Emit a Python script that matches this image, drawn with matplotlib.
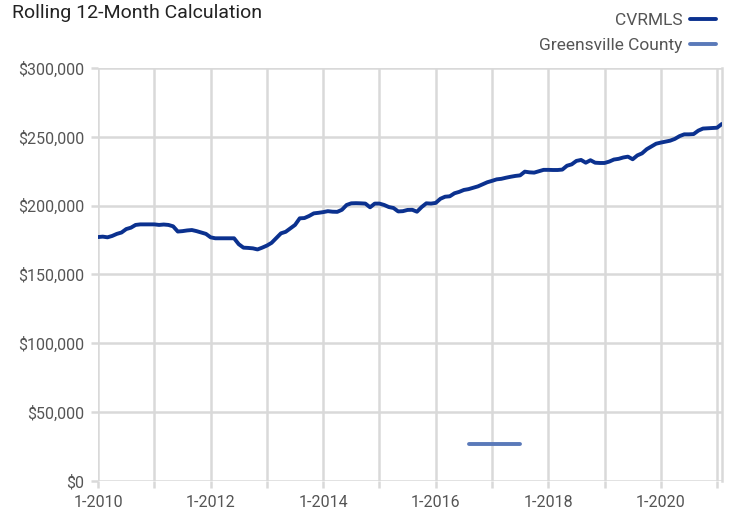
import numpy as np
import matplotlib.pyplot as plt

plt.rcParams['font.family'] = ['Roboto', 'DejaVu Sans']

# monthly rolling 12-month values, Jan 2010 .. Feb 2021
cvrmls = [
    177200, 177500, 177000, 178000, 179500, 180500, 183000, 184000, 186000, 186400, 186400, 186400,  # 2010
    186400, 186000, 186300, 186000, 185000, 181200, 181500, 182000, 182300, 181500, 180500, 179500,  # 2011
    177000, 176300, 176300, 176300, 176300, 176300, 172000, 169500, 169300, 169000, 168200, 169500,  # 2012
    171000, 173000, 176500, 179900, 181000, 183500, 186000, 190800, 191000, 192500, 194400, 194800,  # 2013
    195300, 196000, 195600, 195500, 197000, 200500, 201700, 201800, 201700, 201500, 198800, 201500,  # 2014
    201500, 200500, 199000, 198300, 195800, 196000, 196900, 197000, 195600, 199000, 201700, 201500,  # 2015
    202000, 205000, 206500, 206800, 209000, 210000, 211400, 212000, 213000, 214000, 215500, 217000,  # 2016
    218000, 219100, 219500, 220300, 221000, 221600, 222000, 224700, 224200, 224000, 225000, 226000,  # 2017
    226000, 225900, 225900, 226200, 229000, 230000, 232500, 233200, 231200, 233000, 231200, 231000,  # 2018
    231000, 232000, 233500, 234000, 235000, 235600, 233700, 236500, 238000, 241000, 243000, 245000,  # 2019
    245800, 246500, 247200, 248500, 250500, 251800, 251800, 252000, 254500, 256000, 256200, 256400,  # 2020
    256600, 259300,  # 2021
]
months = np.arange(len(cvrmls))

# Greensville County only reported Aug 2016 .. Jul 2017
gv_start = 79
greensville = [27000, 27000, 27000, 27000, 27000, 27000, 27000, 27000, 27000, 27000, 27000, 27000]
gv_months = np.arange(gv_start, gv_start + len(greensville))

year_ticks = np.arange(0, len(cvrmls), 12)
year_labels = ['1-%d' % (2010 + i) if i % 2 == 0 else '' for i in range(len(year_ticks))]

grid_c = '#d9d9d9'
txt_c = '#555555'

fig = plt.figure(figsize=(7.32, 5.15), dpi=100)
ax = fig.add_axes([0.134, 0.066, 0.852, 0.802])

ax.plot(months, cvrmls, color='#0b318f', lw=2.8, label='CVRMLS', solid_capstyle='round', zorder=3)
ax.plot(gv_months, greensville, color='#5a79b9', lw=2.8, label='Greensville County', solid_capstyle='round', zorder=3)

ax.set_xlim(0, len(cvrmls) - 1)
ax.set_ylim(0, 300000)
ax.set_xticks(year_ticks)
ax.set_xticklabels(year_labels)
ax.set_yticks(np.arange(0, 300001, 50000))
ax.set_yticklabels(['${:,.0f}'.format(v) for v in np.arange(0, 300001, 50000)])

ax.grid(True, color=grid_c, lw=1.8, zorder=0)
ax.tick_params(axis='both', colors=grid_c, width=1.8, length=5, labelcolor=txt_c, labelsize=11.5)
ax.tick_params(axis='x', pad=5)
ax.tick_params(axis='y', pad=5)
for s in ['top', 'left', 'bottom']:
    ax.spines[s].set_visible(False)
ax.spines['right'].set_color(grid_c)
ax.spines['right'].set_linewidth(1.8)

fig.text(0.016, 0.975, 'Rolling 12-Month Calculation', fontsize=14, color='#222222', va='center', ha='left')

leg = ax.legend(loc='upper right', bbox_to_anchor=(0.988, 0.988), bbox_transform=fig.transFigure,
                markerfirst=False, frameon=False, fontsize=12.5, handlelength=1.5, handletextpad=0.45,
                labelspacing=0.55, borderaxespad=0)
for t in leg.get_texts():
    t.set_color(txt_c)
    t.set_ha('right')

fig.savefig('out.png', dpi=100)
